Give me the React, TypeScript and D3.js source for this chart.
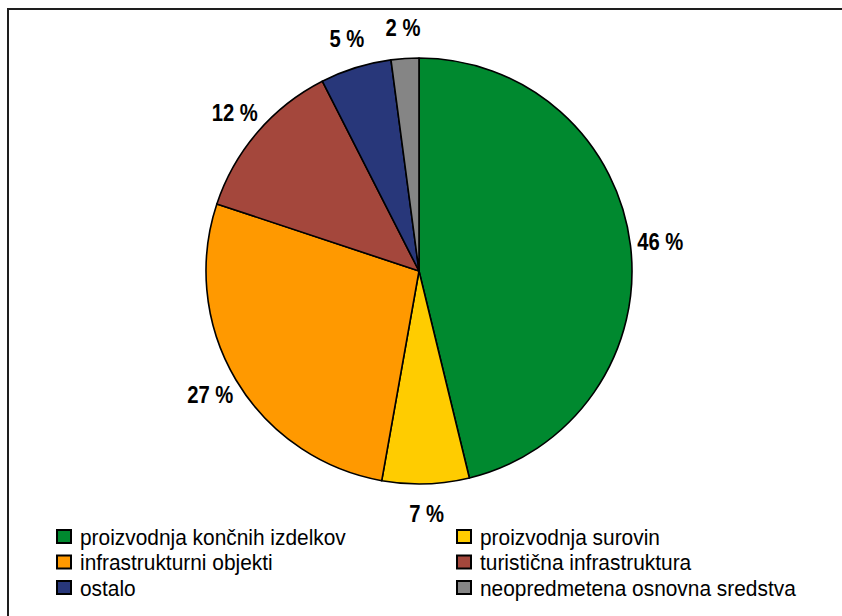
import React from "react";
import * as d3 from "d3";

const categories = [
  "proizvodnja končnih izdelkov",
  "proizvodnja surovin",
  "infrastrukturni objekti",
  "turistična infrastruktura",
  "ostalo",
  "neopredmetena osnovna sredstva",
];
const values = [46.2, 6.6, 27.3, 12.4, 5.4, 2.1];
const colors = ["#00892F", "#FFCC00", "#FF9900", "#A4473C", "#28377A", "#858585"];

const W = 842;
const H = 616;
const cx = 419;
const cy = 271;
const r = 213;
const labelR = 243;

export default function App() {
  const pie = d3.pie<number>().sort(null).value((d) => d);
  const arcs = pie(values);
  const arcGen = d3.arc<d3.PieArcDatum<number>>().innerRadius(0).outerRadius(r);
  const total = d3.sum(values);

  const legendX = d3.scaleOrdinal<number, number>().domain([0, 1]).range([57, 457]);
  const legendY = d3.scaleLinear().domain([0, 1]).range([530, 555.5]);

  return (
    <svg
      width={W}
      height={H}
      style={{ position: "absolute", left: 0, top: 0, background: "#fff" }}
      fontFamily="'Liberation Sans', Arial, sans-serif"
    >
      <rect x={8} y={9} width={900} height={700} fill="#fff" stroke="#1e1e1e" strokeWidth={2} />
      <g transform={`translate(${cx},${cy})`}>
        {arcs.map((a, i) => (
          <path key={i} d={arcGen(a) || ""} fill={colors[i]} stroke="#000" strokeWidth={1.6} strokeLinejoin="round" />
        ))}
        {arcs.map((a, i) => {
          const mid = (a.startAngle + a.endAngle) / 2;
          const x = labelR * Math.sin(mid);
          const y = -labelR * Math.cos(mid);
          return (
            <text
              key={"l" + i}
              transform={`translate(${x},${y}) scale(0.88,1)`}
              textAnchor="middle"
              dominantBaseline="central"
              fontSize={23}
              fontWeight="bold"
              fill="#000"
            >
              {`${Math.round((values[i] / total) * 100)} %`}
            </text>
          );
        })}
      </g>
      <g>
        {categories.map((c, i) => {
          const col = i % 2;
          const row = Math.floor(i / 2);
          const x = legendX(col);
          const y = legendY(row);
          return (
            <g key={"g" + i}>
              <rect x={x} y={y} width={14} height={13} fill={colors[i]} stroke="#000" strokeWidth={2} />
              <text transform={`translate(${x + 23},${y + 14.5}) scale(0.95,1)`} fontSize={22} fill="#000">
                {c}
              </text>
            </g>
          );
        })}
      </g>
    </svg>
  );
}
